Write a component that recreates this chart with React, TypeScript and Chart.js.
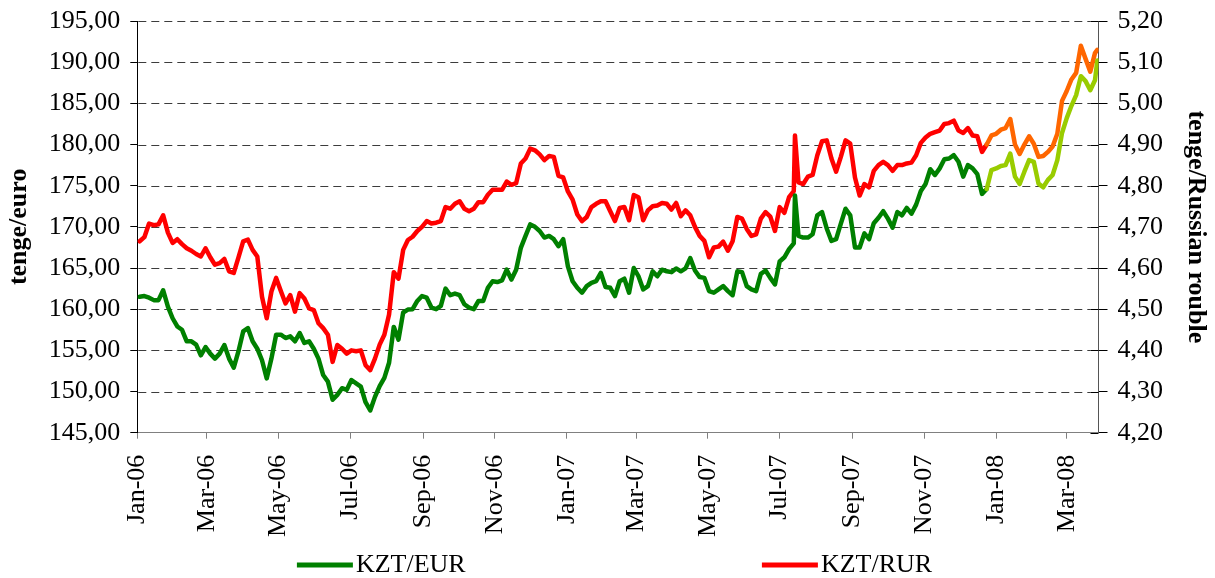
import { useEffect, useRef } from "react";
import { Chart, registerables } from "chart.js";

Chart.register(...registerables);

const FONT = "'Liberation Serif', 'Times New Roman', serif";

// Sample dates (roughly every 4 days)
const sampleDates: string[] = [
  "2006-01-03","2006-01-07","2006-01-11","2006-01-15","2006-01-19","2006-01-23","2006-01-27","2006-01-31",
  "2006-02-04","2006-02-08","2006-02-12","2006-02-16","2006-02-20","2006-02-24","2006-02-28",
  "2006-03-04","2006-03-08","2006-03-12","2006-03-16","2006-03-20","2006-03-24","2006-03-28",
  "2006-04-01","2006-04-05","2006-04-09","2006-04-13","2006-04-17","2006-04-21","2006-04-25","2006-04-29",
  "2006-05-03","2006-05-07","2006-05-11","2006-05-15","2006-05-19","2006-05-23","2006-05-27","2006-05-31",
  "2006-06-04","2006-06-08","2006-06-12","2006-06-16","2006-06-20","2006-06-24","2006-06-28",
  "2006-07-02","2006-07-06","2006-07-10","2006-07-14","2006-07-18","2006-07-22","2006-07-26","2006-07-30",
  "2006-08-03","2006-08-07","2006-08-11","2006-08-15","2006-08-19","2006-08-23","2006-08-27","2006-08-31",
  "2006-09-04","2006-09-08","2006-09-12","2006-09-16","2006-09-20","2006-09-24","2006-09-28",
  "2006-10-02","2006-10-06","2006-10-10","2006-10-14","2006-10-18","2006-10-22","2006-10-26","2006-10-30",
  "2006-11-03","2006-11-07","2006-11-11","2006-11-15","2006-11-19","2006-11-23","2006-11-27",
  "2006-12-01","2006-12-05","2006-12-09","2006-12-13","2006-12-17","2006-12-21","2006-12-25","2006-12-29",
  "2007-01-02","2007-01-06","2007-01-10","2007-01-14","2007-01-18","2007-01-22","2007-01-26","2007-01-30",
  "2007-02-03","2007-02-07","2007-02-11","2007-02-15","2007-02-19","2007-02-23","2007-02-27",
  "2007-03-03","2007-03-07","2007-03-11","2007-03-15","2007-03-19","2007-03-23","2007-03-27","2007-03-31",
  "2007-04-04","2007-04-08","2007-04-12","2007-04-16","2007-04-20","2007-04-24","2007-04-28",
  "2007-05-02","2007-05-06","2007-05-10","2007-05-14","2007-05-18","2007-05-22","2007-05-26","2007-05-30",
  "2007-06-03","2007-06-07","2007-06-11","2007-06-15","2007-06-19","2007-06-23","2007-06-27",
  "2007-07-01","2007-07-05","2007-07-09","2007-07-13","2007-07-14","2007-07-17","2007-07-21","2007-07-25","2007-07-29",
  "2007-08-02","2007-08-06","2007-08-10","2007-08-14","2007-08-18","2007-08-22","2007-08-26","2007-08-30",
  "2007-09-03","2007-09-07","2007-09-11","2007-09-15","2007-09-19","2007-09-23","2007-09-27",
  "2007-10-01","2007-10-05","2007-10-09","2007-10-13","2007-10-17","2007-10-21","2007-10-25","2007-10-29",
  "2007-11-02","2007-11-06","2007-11-10","2007-11-14","2007-11-18","2007-11-22","2007-11-26","2007-11-30",
  "2007-12-04","2007-12-08","2007-12-12","2007-12-16","2007-12-20","2007-12-24","2007-12-28",
  "2008-01-01","2008-01-05","2008-01-09","2008-01-13","2008-01-17","2008-01-21","2008-01-25","2008-01-29",
  "2008-02-02","2008-02-06","2008-02-10","2008-02-14","2008-02-18","2008-02-22","2008-02-26",
  "2008-03-01","2008-03-05","2008-03-09","2008-03-13","2008-03-17","2008-03-21","2008-03-25","2008-03-27",
];

// tenge per euro (left axis)
const kztEur: number[] = [
  161.5, 161.6, 161.4, 161.1, 161.1, 162.3, 160.3, 158.9,
  157.9, 157.5, 156.1, 156.1, 155.7, 154.4, 155.4,
  154.6, 154.0, 154.6, 155.65, 154.0, 152.9, 154.9,
  157.3, 157.7, 156.1, 155.2, 153.8, 151.6, 154.0, 156.9,
  156.9, 156.5, 156.7, 156.1, 157.1, 155.9, 156.1, 155.2,
  154.0, 152.0, 151.2, 149.0, 149.6, 150.4, 150.2,
  151.4, 151.0, 150.6, 148.7, 147.7, 149.35, 150.65, 151.65,
  153.5, 157.85, 156.3, 159.6, 159.95, 160.0, 161.0, 161.6,
  161.4, 160.2, 160.0, 160.4, 162.5, 161.7, 161.9,
  161.7, 160.6, 160.2, 160.0, 161.0, 161.0, 162.6, 163.4,
  163.3, 163.5, 164.8, 163.6, 164.8, 167.45, 168.9,
  170.3, 170.0, 169.5, 168.7, 168.9, 168.5, 167.65, 168.5,
  165.2, 163.4, 162.6, 162.0, 162.8, 163.2, 163.4, 164.4,
  162.7, 162.6, 161.6, 163.4, 163.7, 162.0, 165.0,
  164.0, 162.4, 162.8, 164.6, 164.0, 164.8, 164.6, 164.5,
  164.95, 164.6, 164.95, 166.2, 164.7, 163.9, 163.8,
  162.2, 162.0, 162.4, 162.8, 162.2, 161.7, 164.6, 164.5,
  162.8, 162.4, 162.2, 164.3, 164.7, 163.8, 163.0,
  165.8, 166.3, 167.3, 168.0, 173.8, 168.9, 168.7, 168.7, 169.1,
  171.4, 171.8, 169.8, 168.3, 168.5, 170.4, 172.2, 171.4,
  167.5, 167.5, 169.2, 168.5, 170.45, 171.1, 171.9,
  171.0, 169.9, 171.8, 171.4, 172.3, 171.6, 172.7, 174.35,
  175.2, 177.0, 176.3, 177.1, 178.2, 178.3, 178.7, 177.9,
  176.1, 177.5, 177.1, 176.4, 174.0, 174.6, 176.9,
  177.1, 177.4, 177.5, 178.9, 176.1, 175.2, 176.7, 178.1,
  177.9, 175.25, 174.8, 175.7, 176.3, 178.1, 181.4,
  183.2, 184.7, 186.0, 188.3, 187.7, 186.6, 187.8, 190.2,
];

// tenge per Russian rouble (right axis)
const kztRur: number[] = [
  4.665, 4.675, 4.708, 4.704, 4.706, 4.728, 4.686, 4.661,
  4.67, 4.658, 4.648, 4.642, 4.634, 4.628, 4.648,
  4.626, 4.608, 4.612, 4.622, 4.592, 4.588, 4.626,
  4.665, 4.669, 4.644, 4.628, 4.53, 4.478, 4.543, 4.576,
  4.544, 4.514, 4.534, 4.494, 4.539, 4.526, 4.502, 4.498,
  4.466, 4.454, 4.438, 4.372, 4.413, 4.404, 4.392,
  4.40, 4.398, 4.40, 4.364, 4.352, 4.38, 4.414, 4.438,
  4.487, 4.59, 4.574, 4.644, 4.668, 4.676, 4.69, 4.70,
  4.714, 4.708, 4.71, 4.714, 4.748, 4.744, 4.756,
  4.762, 4.744, 4.738, 4.744, 4.76, 4.76, 4.778, 4.79,
  4.79, 4.79, 4.81, 4.802, 4.806, 4.854, 4.866,
  4.89, 4.886, 4.876, 4.862, 4.872, 4.87, 4.824, 4.82,
  4.786, 4.766, 4.73, 4.714, 4.724, 4.748, 4.756, 4.762,
  4.762, 4.738, 4.714, 4.746, 4.748, 4.716, 4.777,
  4.772, 4.716, 4.74, 4.75, 4.752, 4.758, 4.756, 4.742,
  4.758, 4.726, 4.74, 4.728, 4.70, 4.678, 4.666,
  4.626, 4.65, 4.652, 4.664, 4.642, 4.665, 4.724, 4.72,
  4.695, 4.678, 4.682, 4.72, 4.736, 4.725, 4.69,
  4.748, 4.734, 4.772, 4.787, 4.922, 4.808, 4.804, 4.822, 4.826,
  4.874, 4.908, 4.91, 4.866, 4.834, 4.87, 4.91, 4.902,
  4.82, 4.776, 4.804, 4.796, 4.836, 4.85, 4.858,
  4.85, 4.836, 4.85, 4.85, 4.854, 4.856, 4.874, 4.904,
  4.917, 4.926, 4.93, 4.934, 4.95, 4.952, 4.958, 4.934,
  4.928, 4.94, 4.922, 4.92, 4.882, 4.90, 4.922,
  4.926, 4.936, 4.94, 4.962, 4.90, 4.877, 4.90, 4.92,
  4.902, 4.87, 4.872, 4.882, 4.895, 4.926, 5.006,
  5.03, 5.058, 5.074, 5.14, 5.108, 5.077, 5.122, 5.13,
];

const xTickDates = [
  "2006-01-01","2006-03-01","2006-05-01","2006-07-01","2006-09-01","2006-11-01",
  "2007-01-01","2007-03-01","2007-05-01","2007-07-01","2007-09-01","2007-11-01",
  "2008-01-01","2008-03-01",
];
const xTickLabels = [
  "Jan-06","Mar-06","May-06","Jul-06","Sep-06","Nov-06",
  "Jan-07","Mar-07","May-07","Jul-07","Sep-07","Nov-07",
  "Jan-08","Mar-08",
];
const eurTickValues = [145, 150, 155, 160, 165, 170, 175, 180, 185, 190, 195];
const eurTickLabels = ["145,00","150,00","155,00","160,00","165,00","170,00","175,00","180,00","185,00","190,00","195,00"];
const rurTickValues = [4.2, 4.3, 4.4, 4.5, 4.6, 4.7, 4.8, 4.9, 5.0, 5.1, 5.2];
const rurTickLabels = ["4,20","4,30","4,40","4,50","4,60","4,70","4,80","4,90","5,00","5,10","5,20"];

const axisStart = "2006-01-01";
const axisEnd = "2008-03-28";
const highlightFrom = "2007-12-24";

const DAY = 86400000;
const toDay = (s: string) => (Date.parse(s) - Date.parse(axisStart)) / DAY;

// Dashed horizontal grid lines from the left value scale, plus inner tick marks of the right scale
const dashedGrid = {
  id: "dashedGrid",
  beforeDatasetsDraw(chart: any) {
    const { ctx, chartArea } = chart;
    const scale = chart.scales.y;
    const right = chart.scales.y1;
    ctx.save();
    ctx.strokeStyle = "#3c3c3c";
    ctx.lineWidth = 1;
    ctx.setLineDash([8, 5]);
    scale.ticks.forEach((t: any) => {
      if (t.value === scale.min) return;
      const py = Math.round(scale.getPixelForValue(t.value)) + 0.5;
      ctx.beginPath();
      ctx.moveTo(chartArea.left + 1, py);
      ctx.lineTo(chartArea.right - 8, py);
      ctx.stroke();
    });
    ctx.setLineDash([]);
    ctx.strokeStyle = "#000";
    right.ticks.forEach((t: any) => {
      const py = Math.round(right.getPixelForValue(t.value)) + 0.5;
      ctx.beginPath();
      ctx.moveTo(chartArea.right - 8, py);
      ctx.lineTo(chartArea.right, py);
      ctx.stroke();
    });
    ctx.restore();
  },
};

const lineLegend = {
  id: "lineLegend",
  afterDraw(chart: any) {
    const { ctx, chartArea } = chart;
    const cx = (chartArea.left + chartArea.right) / 2;
    const y = chart.height - 13;
    ctx.save();
    ctx.font = `26px ${FONT}`;
    ctx.textBaseline = "middle";
    ctx.textAlign = "left";
    chart.data.datasets.forEach((ds: any, i: number) => {
      const x0 = cx - 321 + i * 465;
      ctx.strokeStyle = ds.borderColor;
      ctx.lineWidth = 5;
      ctx.lineCap = "butt";
      ctx.beginPath();
      ctx.moveTo(x0, y);
      ctx.lineTo(x0 + 56, y);
      ctx.stroke();
      ctx.fillStyle = "#000";
      ctx.fillText(ds.label, x0 + 59, y);
    });
    ctx.restore();
  },
};

export default function App() {
  const canvasRef = useRef<HTMLCanvasElement | null>(null);

  useEffect(() => {
    if (!canvasRef.current) return;
    const split = toDay(highlightFrom);
    const xs = sampleDates.map(toDay);

    const chart = new Chart(canvasRef.current, {
      type: "line",
      data: {
        datasets: [
          {
            label: "KZT/EUR",
            data: xs.map((x, i) => ({ x, y: kztEur[i] })),
            borderColor: "#008000",
            backgroundColor: "#008000",
            borderWidth: 4.5,
            pointRadius: 0,
            tension: 0,
            borderJoinStyle: "round",
            borderCapStyle: "round",
            yAxisID: "y",
            segment: {
              borderColor: (c: any) => (c.p0.parsed.x >= split ? "#99CC00" : undefined),
            },
          },
          {
            label: "KZT/RUR",
            data: xs.map((x, i) => ({ x, y: kztRur[i] })),
            borderColor: "#FF0000",
            backgroundColor: "#FF0000",
            borderWidth: 4.5,
            pointRadius: 0,
            tension: 0,
            borderJoinStyle: "round",
            borderCapStyle: "round",
            yAxisID: "y1",
            segment: {
              borderColor: (c: any) => (c.p0.parsed.x >= split ? "#FF6600" : undefined),
            },
          },
        ],
      },
      options: {
        responsive: false,
        animation: false,
        events: [],
        layout: { padding: { top: 21, bottom: 40, left: 0, right: 0 } },
        plugins: {
          legend: { display: false },
          tooltip: { enabled: false },
        },
        scales: {
          x: {
            type: "linear",
            min: 0,
            max: toDay(axisEnd),
            afterBuildTicks: (s: any) => {
              s.ticks = xTickDates.map((d) => ({ value: toDay(d) }));
            },
            afterFit: (s: any) => {
              s.height = 578 - 40 - 432.7;
            },
            ticks: {
              autoSkip: false,
              minRotation: 90,
              maxRotation: 90,
              padding: 16,
              color: "#000",
              font: { family: FONT, size: 26 },
              callback: (_v: any, i: number) => xTickLabels[i],
            },
            grid: {
              drawOnChartArea: false,
              drawTicks: true,
              tickLength: 6,
              tickColor: "#808080",
              color: "#808080",
            },
            border: { color: "#808080", width: 1 },
          },
          y: {
            type: "linear",
            position: "left",
            min: 145,
            max: 195,
            afterBuildTicks: (s: any) => {
              s.ticks = eurTickValues.map((v) => ({ value: v }));
            },
            afterFit: (s: any) => {
              s.width = 137.3;
              s.paddingTop = 14;
              s.paddingBottom = 14;
            },
            ticks: {
              padding: 10,
              color: "#000",
              font: { family: FONT, size: 26 },
              callback: (_v: any, i: number) => eurTickLabels[i],
            },
            grid: {
              drawOnChartArea: false,
              drawTicks: true,
              tickLength: 7,
              tickColor: "#000",
              color: "#000",
            },
            border: { color: "#000", width: 1 },
            title: {
              display: true,
              text: "tenge/euro",
              color: "#000",
              font: { family: FONT, size: 26, weight: "bold" },
              padding: { top: 4, bottom: 0 },
            },
          },
          y1: {
            type: "linear",
            position: "right",
            min: 4.2,
            max: 5.2,
            afterBuildTicks: (s: any) => {
              s.ticks = rurTickValues.map((v) => ({ value: v }));
            },
            afterFit: (s: any) => {
              s.width = 1215 - 1098.5;
              s.paddingTop = 14;
              s.paddingBottom = 14;
            },
            ticks: {
              padding: 10,
              color: "#000",
              font: { family: FONT, size: 26 },
              callback: (_v: any, i: number) => rurTickLabels[i],
            },
            grid: {
              drawOnChartArea: false,
              drawTicks: true,
              tickLength: 9,
              tickColor: "#000",
              color: "#000",
            },
            border: { color: "#555", width: 1 },
            title: {
              display: true,
              text: "tenge/Russian rouble",
              color: "#000",
              font: { family: FONT, size: 26, weight: "bold" },
              padding: { top: 4, bottom: 0 },
            },
          },
        },
      } as any,
      plugins: [dashedGrid, lineLegend],
    });

    return () => chart.destroy();
  }, []);

  return (
    <div style={{ position: "fixed", left: 0, top: 0, width: 1215, height: 578, background: "#fff" }}>
      <canvas ref={canvasRef} width={1215} height={578} style={{ display: "block" }} />
    </div>
  );
}
